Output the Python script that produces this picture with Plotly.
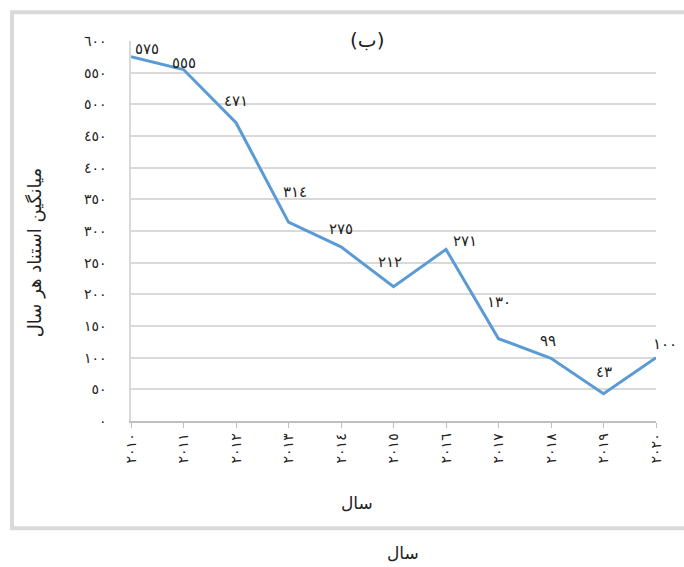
import plotly.graph_objects as go

years = [2010, 2011, 2012, 2013, 2014, 2015, 2016, 2017, 2018, 2019, 2020]
year_labels = ["٢٠١٠", "٢٠١١", "٢٠١٢", "٢٠١٣", "٢٠١٤", "٢٠١٥", "٢٠١٦", "٢٠١٧", "٢٠١٨", "٢٠١٩", "٢٠٢٠"]
citations = [575, 555, 471, 314, 275, 212, 271, 130, 99, 43, 100]
value_labels = ["٥٧٥", "٥٥٥", "٤٧١", "٣١٤", "٢٧٥", "٢١٢", "٢٧١", "١٣٠", "٩٩", "٤٣", "١٠٠"]
y_ticks = [0, 50, 100, 150, 200, 250, 300, 350, 400, 450, 500, 550, 600]
y_tick_labels = ["٠", "٥٠", "١٠٠", "١٥٠", "٢٠٠", "٢٥٠", "٣٠٠", "٣٥٠", "٤٠٠", "٤٥٠", "٥٠٠", "٥٥٠", "٦٠٠"]

# label offsets (pixels) relative to each point
label_dx = [16, 0, 0, 6, 0, -4, 19, 0, -3, 0, 9]
label_dy = [8, 7, 22, 30, 18, 25, 8, 37, 17, 22, 14]

FONT = "DejaVu Sans"
TXT = "#222222"

fig = go.Figure()
fig.add_trace(go.Scatter(
    x=years, y=citations, mode="lines",
    line=dict(color="#5b9bd5", width=3),
    hoverinfo="skip", showlegend=False,
))

annotations = []
for x, y, t, dx, dy in zip(years, citations, value_labels, label_dx, label_dy):
    annotations.append(dict(x=x, y=y, xref="x", yref="y", text=t, showarrow=False,
                            xanchor="center", yanchor="middle",
                            xshift=dx, yshift=dy, font=dict(size=15, color=TXT, family=FONT)))

common = dict(xref="paper", yref="paper", showarrow=False, xanchor="center", yanchor="middle")
annotations += [
    dict(x=0.4495, y=1.002, text="(ب)", font=dict(size=20, color=TXT, family=FONT), **common),
    dict(x=-0.183, y=0.444, text="میانگین استناد هر سال", textangle=-90,
         font=dict(size=18, color=TXT, family=FONT), **common),
    dict(x=0.4305, y=-0.2166, text="سال", font=dict(size=17, color=TXT, family=FONT), **common),
    dict(x=0.518, y=-0.348, text="سال", font=dict(size=17, color=TXT, family=FONT), **common),
]

fig.update_layout(
    width=684, height=567,
    margin=dict(l=131, r=28, t=41, b=146),
    paper_bgcolor="white", plot_bgcolor="white",
    font=dict(family=FONT, color=TXT),
    annotations=annotations,
    shapes=[dict(type="rect", xref="paper", yref="paper",
                 x0=-0.2267, x1=1.09, y0=-0.2824, y1=1.0755,
                 line=dict(color="#d9d9d9", width=4), fillcolor="rgba(0,0,0,0)", layer="below")],
    xaxis=dict(
        range=[2010, 2020], tickvals=years, ticktext=year_labels, tickangle=-90,
        showgrid=False, zeroline=False, showline=True, linecolor="#bfbfbf", linewidth=1.5,
        ticks="outside", ticklen=5, tickcolor="#bfbfbf",
        tickfont=dict(size=14, color=TXT, family=FONT),
    ),
    yaxis=dict(
        range=[0, 600], tickvals=y_ticks, ticktext=y_tick_labels,
        showgrid=True, gridcolor="#d9d9d9", gridwidth=1.5, zeroline=False,
        showline=True, linecolor="#d9d9d9", linewidth=1.5,
        ticks="", ticklabelstandoff=20,
        tickfont=dict(size=14, color=TXT, family=FONT),
    ),
)

fig.write_html("out.html", config={"displayModeBar": False},
               post_script="document.body.style.margin='0';")
